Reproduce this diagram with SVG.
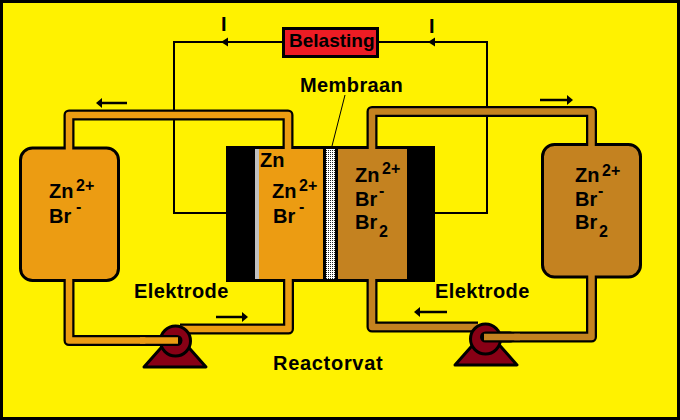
<svg xmlns="http://www.w3.org/2000/svg" width="680" height="420" viewBox="0 0 680 420">
<style>
text{font-family:"Liberation Sans",Arial,sans-serif;font-weight:bold;fill:#000}
.l{font-size:20px;letter-spacing:.4px}
.b{font-size:19px}
.s{font-size:20px}
.u{font-size:16px}
.pb,.po,.pr{fill:none;stroke-linejoin:round}
.pb{stroke:#000;stroke-width:11}
.po{stroke:#ec9c12;stroke-width:6.500}
.pr{stroke:#c48220;stroke-width:6.500}
.w{fill:none;stroke:#000;stroke-width:2}
.a{fill:none;stroke:#000;stroke-width:2.500}
.tank{stroke:#000;stroke-width:3}
.pump{fill:#880015;stroke:#000;stroke-width:3;stroke-linejoin:round}
</style>
<defs>
<pattern id="dots" width="2" height="2" patternUnits="userSpaceOnUse"><rect width="2" height="2" fill="#fff"/><rect width="1" height="1" fill="#222"/></pattern>
<marker id="ah" markerWidth="7" markerHeight="10" refX="1" refY="5" orient="auto-start-reverse" markerUnits="userSpaceOnUse"><path d="M0 0L6 5L0 10Z" fill="#000"/></marker>
</defs>
<rect id="background" x="1.500" y="1.500" width="677" height="417" fill="#fff200" stroke="#000" stroke-width="3"/>
<g id="connectors">
<path class="w" d="M227 213H174V42H283"/>
<path class="w" d="M378 42H487V213H435"/>
<path d="M228 37.500L221 42L228 46.500Z"/><path d="M435 37.500L428 42L435 46.500Z"/>
<path class="pb" d="M69 150V115H288V150"/>
<path class="pb" d="M372 150V111.500H591.500V146"/>
<path class="pb" d="M69 278V340.500H150"/>
<path class="pb" d="M288.500 278V329H180"/>
<path class="pb" d="M372 278V327H478"/>
<path class="pb" d="M591.500 275V337H490"/>
</g>
<g id="tank-left"><rect class="tank" x="20.500" y="148" width="98" height="132.500" rx="12" fill="#ec9c12"/></g>
<g id="tank-right"><rect class="tank" x="542.500" y="144.500" width="98" height="132.500" rx="12" fill="#c48220"/></g>
<g id="reactor">
<rect x="226" y="146" width="209" height="136" fill="#000"/>
<rect x="255" y="149" width="4" height="130" fill="#c0c0c0"/>
<rect x="259" y="149" width="64" height="130" fill="#ec9c12"/>
<rect x="326" y="149" width="9" height="130" fill="url(#dots)"/>
<rect x="338" y="149" width="69" height="130" fill="#c48220"/>
</g>
<g id="pipe-fill">
<path class="po" d="M69 152V115H288V152"/>
<path class="pr" d="M372 152V111.500H591.500V148"/>
<path class="po" d="M69 276V340.500H150"/>
<path class="po" d="M288.500 276V329H180"/>
<path class="pr" d="M372 276V327H478"/>
<path class="pr" d="M591.500 273V337H510"/>
</g>
<g id="pump-left">
<path class="pump" d="M144 367L175 332L206 367Z"/>
<circle class="pump" cx="175.500" cy="341" r="15"/>
<path class="pb" d="M150 340.500H177" stroke-linecap="round"/>
<path class="po" d="M140 340.500H178"/>
</g>
<g id="pump-right">
<path class="pump" d="M455 365L486 330L517 365Z"/>
<circle class="pump" cx="485.500" cy="339" r="15"/>
<path class="pb" d="M510 337H485.500" stroke-linecap="round"/>
<path class="pr" d="M520 337H484"/>
</g>
<g id="flow-arrows">
<path class="a" d="M127 103H101" marker-end="url(#ah)"/>
<path class="a" d="M540 100H568" marker-end="url(#ah)"/>
<path class="a" d="M216 317H243" marker-end="url(#ah)"/>
<path class="a" d="M447 312H419" marker-end="url(#ah)"/>
</g>
<path id="membrane-leader" d="M345 95L332 146" stroke="#000" stroke-width="1" fill="none"/>
<g id="load"><rect x="283.500" y="28.500" width="94" height="28" fill="#ed1c24" stroke="#000" stroke-width="3"/><text class="b" x="289" y="47">Belasting</text></g>
<g id="labels">
<text class="l" x="224" y="31" text-anchor="middle">I</text>
<text class="l" x="432" y="33" text-anchor="middle">I</text>
<text class="l" x="300" y="92">Membraan</text>
<text class="l" x="134" y="298">Elektrode</text>
<text class="l" x="435" y="298">Elektrode</text>
<text class="l" x="273" y="370" style="letter-spacing:.7px">Reactorvat</text>
<text class="s" x="49" y="198">Zn</text><text class="u" x="76" y="191">2+</text>
<text class="s" x="49" y="223">Br</text><text class="u" x="76" y="212">-</text>
<text class="s" x="260" y="167">Zn</text>
<text class="s" x="272" y="198">Zn</text><text class="u" x="299" y="191">2+</text>
<text class="s" x="273" y="223">Br</text><text class="u" x="299" y="212">-</text>
<text class="s" x="355" y="182">Zn</text><text class="u" x="382" y="174">2+</text>
<text class="s" x="355" y="206">Br</text><text class="u" x="379" y="196">-</text>
<text class="s" x="355" y="229">Br</text><text class="u" x="379" y="237">2</text>
<text class="s" x="575" y="182">Zn</text><text class="u" x="602" y="176">2+</text>
<text class="s" x="575" y="206">Br</text><text class="u" x="598" y="196">-</text>
<text class="s" x="575" y="229">Br</text><text class="u" x="599" y="237">2</text>
</g>
</svg>
